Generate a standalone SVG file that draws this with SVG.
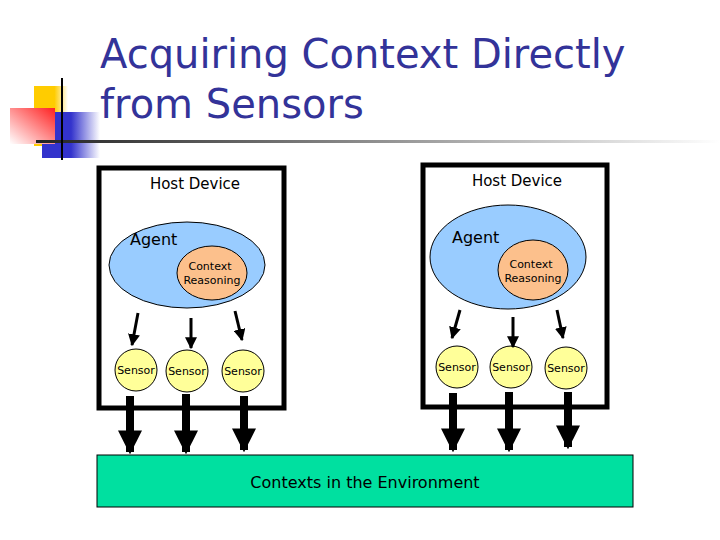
<svg xmlns="http://www.w3.org/2000/svg" width="720" height="540" viewBox="0 0 720 540">
<defs>
<linearGradient id="rule" x1="0" x2="1"><stop offset="0" stop-color="#222"/><stop offset="1" stop-color="#fff"/></linearGradient>
<linearGradient id="gy" x1="0" x2="1"><stop offset="0.6" stop-color="#ffcc00"/><stop offset="1" stop-color="#fff"/></linearGradient>
<linearGradient id="gb" x1="0" x2="1"><stop offset="0.5" stop-color="#3333cc"/><stop offset="1" stop-color="#fff"/></linearGradient>
<linearGradient id="gr" x1="1" x2="0" y1="0" y2="1"><stop offset="0" stop-color="#ff2020"/><stop offset="1" stop-color="#fff"/></linearGradient>
<marker id="sm" viewBox="0 0 10 10" refX="9" refY="5" markerWidth="4" markerHeight="4" orient="auto"><path d="M0,0L10,5L0,10z" fill="#000"/></marker>
<marker id="bg" viewBox="0 0 10 10" refX="9" refY="5" markerWidth="3" markerHeight="3.2" orient="auto"><path d="M0,0L10,5L0,10z" fill="#000"/></marker>
</defs>
<style>
.t{font-family:Verdana,"DejaVu Sans",sans-serif;fill:#000}
.box{fill:#fff;stroke:#000;stroke-width:5}
.ag{fill:#99ccff;stroke:#000;stroke-width:1}
.cr{fill:#fcc08c;stroke:#000;stroke-width:1}
.se{fill:#ffff99;stroke:#000;stroke-width:1}
.th{stroke:#000;stroke-width:3;marker-end:url(#sm)}
.bk{stroke:#000;stroke-width:8;marker-end:url(#bg)}
</style>
<rect x="34" y="86" width="34" height="60" fill="url(#gy)"/>
<rect x="42" y="112" width="58" height="46" fill="url(#gb)"/>
<rect x="10" y="108" width="45" height="36" fill="url(#gr)"/>
<rect x="36" y="140" width="684" height="3" fill="url(#rule)"/>
<line x1="62" y1="78" x2="62" y2="160" stroke="#000" stroke-width="2"/>
<text x="100" y="68" font-family="Tahoma,'DejaVu Sans',sans-serif" font-size="40" fill="#333399">Acquiring Context Directly</text>
<text x="100" y="118" font-family="Tahoma,'DejaVu Sans',sans-serif" font-size="40" fill="#333399">from Sensors</text>
<g id="env"><rect x="97" y="455" width="536" height="52" fill="#00e0a0" stroke="#000" stroke-width="1"/><text class="t" x="365" y="488" font-size="16" text-anchor="middle">Contexts in the Environment</text></g>
<g id="host1"><rect class="box" x="99" y="168" width="185" height="240"/><text class="t" x="195" y="189" font-size="15" text-anchor="middle">Host Device</text></g>
<g id="agent1"><ellipse class="ag" cx="187" cy="265" rx="78" ry="43"/><text class="t" x="130" y="245" font-size="16" fill="#000033">Agent</text></g>
<g id="cr1"><ellipse class="cr" cx="212" cy="273" rx="35" ry="27"/><text class="t" x="210" y="270" font-size="11" text-anchor="middle">Context</text><text class="t" x="212" y="284" font-size="11" text-anchor="middle">Reasoning</text></g>
<g id="s1"><circle class="se" cx="136" cy="370" r="21"/><text class="t" x="136" y="374" font-size="11" text-anchor="middle">Sensor</text></g>
<g id="s2"><circle class="se" cx="187" cy="371" r="21"/><text class="t" x="187" y="375" font-size="11" text-anchor="middle">Sensor</text></g>
<g id="s3"><circle class="se" cx="243" cy="371" r="21"/><text class="t" x="243" y="375" font-size="11" text-anchor="middle">Sensor</text></g>
<g id="host2"><rect class="box" x="423" y="165" width="184" height="242"/><text class="t" x="517" y="186" font-size="15" text-anchor="middle">Host Device</text></g>
<g id="agent2"><ellipse class="ag" cx="508" cy="257" rx="78" ry="52"/><text class="t" x="452" y="243" font-size="16" fill="#000033">Agent</text></g>
<g id="cr2"><ellipse class="cr" cx="533" cy="270" rx="35" ry="30"/><text class="t" x="531" y="268" font-size="11" text-anchor="middle">Context</text><text class="t" x="533" y="282" font-size="11" text-anchor="middle">Reasoning</text></g>
<g id="s4"><circle class="se" cx="457" cy="367" r="21"/><text class="t" x="457" y="371" font-size="11" text-anchor="middle">Sensor</text></g>
<g id="s5"><circle class="se" cx="511" cy="367" r="21"/><text class="t" x="511" y="371" font-size="11" text-anchor="middle">Sensor</text></g>
<g id="s6"><circle class="se" cx="566" cy="368" r="21"/><text class="t" x="566" y="372" font-size="11" text-anchor="middle">Sensor</text></g>
<g id="connectors">
<line class="th" x1="138" y1="313" x2="132" y2="345"/>
<line class="th" x1="191" y1="318" x2="191" y2="348"/>
<line class="th" x1="235" y1="311" x2="242" y2="340"/>
<line class="th" x1="460" y1="310" x2="452" y2="338"/>
<line class="th" x1="513" y1="317" x2="513" y2="347"/>
<line class="th" x1="557" y1="310" x2="563" y2="338"/>
<line class="bk" x1="130" y1="396" x2="130" y2="452"/>
<line class="bk" x1="186" y1="394" x2="186" y2="452"/>
<line class="bk" x1="244" y1="396" x2="244" y2="450"/>
<line class="bk" x1="453" y1="393" x2="453" y2="450"/>
<line class="bk" x1="509" y1="392" x2="509" y2="450"/>
<line class="bk" x1="568" y1="392" x2="568" y2="447"/>
</g>
</svg>
